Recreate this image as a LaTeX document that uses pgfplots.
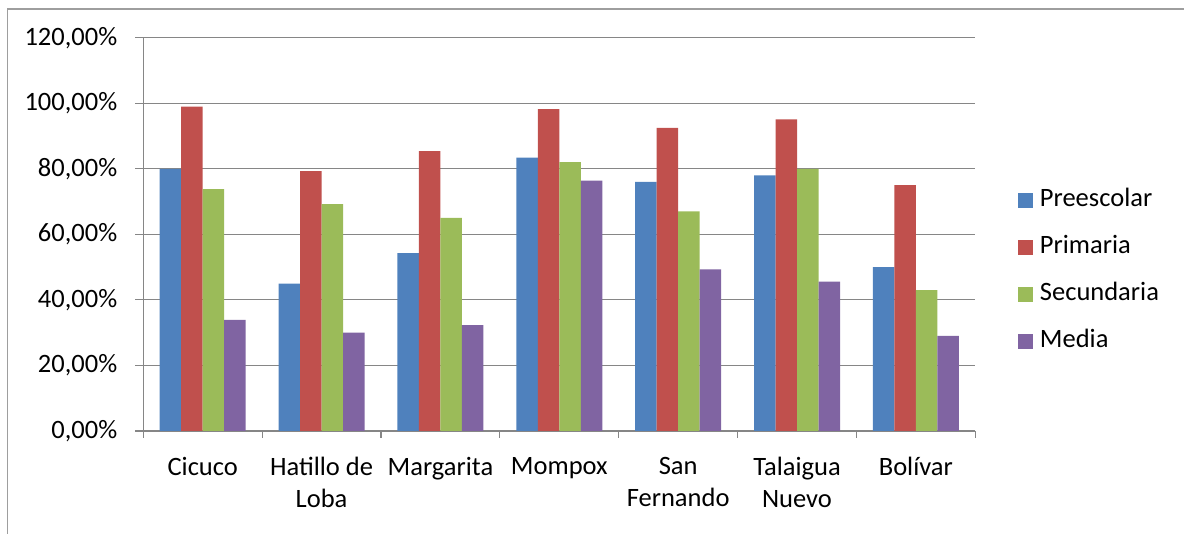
\documentclass[border=0pt]{standalone}
\usepackage{pgfplots}
\pgfplotsset{compat=1.18}
\usepackage{fontspec}
\setmainfont{Carlito}

\definecolor{cBlue}{HTML}{4F81BD}
\definecolor{cRed}{HTML}{C0504D}
\definecolor{cGreen}{HTML}{9BBB59}
\definecolor{cPurple}{HTML}{8064A2}
\definecolor{cGrid}{HTML}{868686}

\begin{document}
\fontsize{26.5}{32}\selectfont
\begin{tikzpicture}[x=1pt,y=1pt]
\useasboundingbox (0,0) rectangle (1184,534);
% chart frame
\draw[cGrid!80, line width=1.2pt] (7.5,0) -- (7.5,525) -- (1184,525);
\begin{axis}[
  at={(143.3pt,103pt)}, anchor=south west,
  width=832pt, height=393.3pt, scale only axis,
  xmin=-0.5, xmax=6.5, ymin=0, ymax=120,
  enlargelimits=false,
  axis x line*=bottom, axis y line*=left,
  axis line style={cGrid, line width=1.2pt, -},
  ybar=0pt, bar width=21.5pt,
  xtick={0,...,6},
  xticklabels={Cicuco, {Hatillo de\\Loba}, Margarita, Mompox, {San\\Fernando}, {Talaigua\\Nuevo}, Bolívar},
  xticklabel style={align=center, anchor=north, yshift=-9pt},
  major x tick style={draw=none},
  minor xtick={-0.5,0.5,...,6.5},
  minor tick length=7pt,
  minor x tick style={cGrid, line width=1.2pt},
  ytick={0,20,...,120},
  yticklabels={{0,00\%}, {20,00\%}, {40,00\%}, {60,00\%}, {80,00\%}, {100,00\%}, {120,00\%}},
  yticklabel style={anchor=east, xshift=-9pt},
  major tick length=8pt,
  tick align=outside,
  major y tick style={cGrid, line width=1.2pt},
  ymajorgrids, major grid style={cGrid, line width=1.2pt},
  legend style={draw=none, fill=none, at={(1.051,0.408)}, anchor=west,
    inner sep=0pt, row sep=18pt,
    nodes={inner sep=2pt, text height=19pt, text depth=6pt, anchor=west},
    /tikz/every odd column/.append style={column sep=5pt}},
  legend cell align=left,
  legend image code/.code={\fill[#1] (0pt,-7.5pt) rectangle (15pt,7.5pt);},
]
\addplot[fill=cBlue, draw=none] coordinates {(0,80.0) (1,45.0) (2,54.3) (3,83.4) (4,76.0) (5,78.0) (6,50.0)};
\addplot[fill=cRed, draw=none] coordinates {(0,99.0) (1,79.3) (2,85.4) (3,98.2) (4,92.5) (5,95.1) (6,75.0)};
\addplot[fill=cGreen, draw=none] coordinates {(0,73.8) (1,69.2) (2,65.0) (3,82.0) (4,67.0) (5,80.0) (6,43.0)};
\addplot[fill=cPurple, draw=none] coordinates {(0,33.9) (1,30.0) (2,32.3) (3,76.4) (4,49.3) (5,45.6) (6,29.0)};
\legend{Preescolar, Primaria, Secundaria, Media}
\end{axis}
\end{tikzpicture}
\end{document}
